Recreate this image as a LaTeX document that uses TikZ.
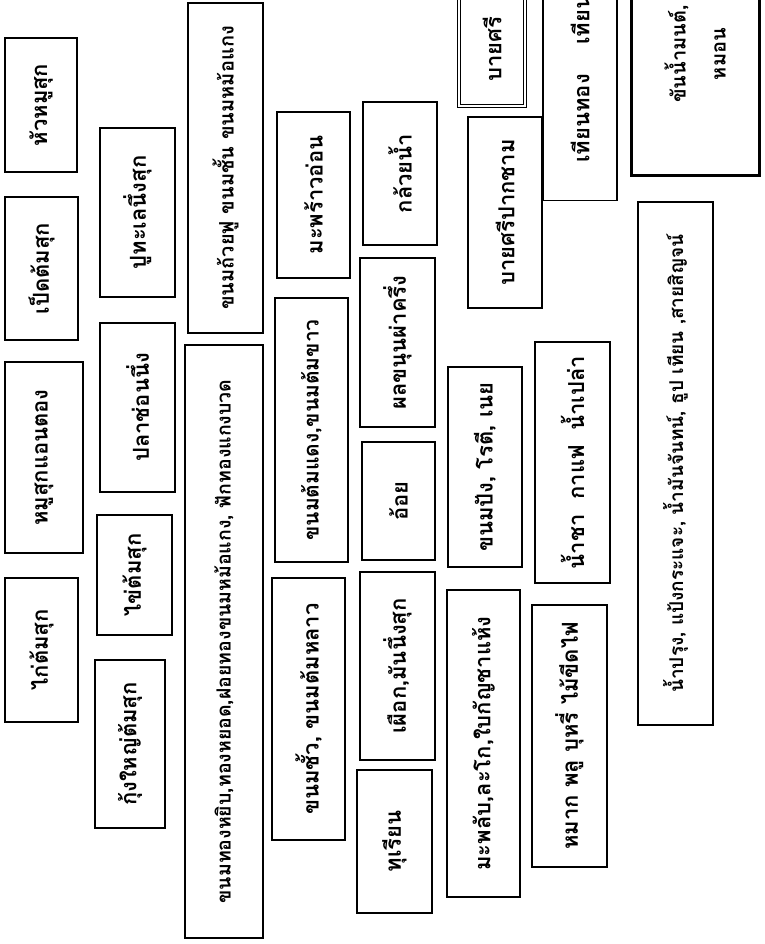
\documentclass[tikz,border=0pt]{standalone}
\usepackage{fontspec}
\newfontfamily\thaifont[Script=Thai]{Loma}
\usepackage{tikz}
\tikzset{
    item/.style={
        draw,
        line width=1.6pt,
        rotate=90,
        align=center,
        inner sep=0pt,
        font=\thaifont\bfseries\fontsize{22}{40}\selectfont
    },
    dim/.style 2 args={
        minimum width=#2pt,
        minimum height=#1pt
    },
    fs/.style={font=\thaifont\bfseries\fontsize{#1}{40}\selectfont},
    heavy/.style={line width=3pt},
    twin/.style={double, double distance=2pt, line width=1.4pt}
}
\begin{document}
\begin{tikzpicture}[x=1pt, y=-1pt]
    \useasboundingbox (0,0) rectangle (764,944);
    \clip (0,0) rectangle (764,944);

    \node[item, dim={73}{144}] (kaitom) at (41.5,650) {ไก่ต้มสุก};
    \node[item, dim={78}{191}] (musuk) at (44,457.5) {หมูสุกแอนตอง};
    \node[item, dim={73}{143}] (pettom) at (41.5,268.5) {เป็ดต้มสุก};
    \node[item, dim={72}{134}] (huamu) at (41,105) {หัวหมูสุก};

    \node[item, dim={75}{169}] (puthale) at (137.5,212.5) {ปูทะเลนึ่งสุก};
    \node[item, dim={75}{169}] (plachon) at (137.5,407.5) {ปลาช่อนนึ่ง};
    \node[item, dim={75}{120}] (khaitom) at (134.5,575) {ไข่ต้มสุก};
    \node[item, dim={70}{168}] (kungyai) at (130,744) {กุ้งใหญ่ต้มสุก};

    \node[item, fs=20, dim={75}{330}] (thuaifu) at (225.5,168) {ขนมถ้วยฟู ขนมชั้น ขนมหม้อแกง};
    \node[item, fs=19.5, dim={78}{593}] (thongyip) at (224,641.5) {ขนมทองหยิบ,ทองหยอด,ฝอยทองขนมหม้อแกง, ฟักทองแกงบวด};

    \node[item, dim={73}{166}] (maphrao) at (313.5,195) {มะพร้าวอ่อน};
    \node[item, fs=21, dim={73}{264}] (tomdaeng) at (311.5,430) {ขนมต้มแดง,ขนมต้มขาว};
    \node[item, dim={73}{262}] (khanomchua) at (308.5,709) {ขนมชั้ว, ขนมต้มหลาว};

    \node[item, dim={74}{143}] (kluai) at (400,173.5) {กล้วยน้ำ};
    \node[item, dim={75}{169}] (khanun) at (397.5,342.5) {ผลขนุนผ่าครึ่ง};
    \node[item, dim={73}{118}] (oi) at (398.5,501) {อ้อย};
    \node[item, dim={75}{188}] (phueak) at (397.5,666) {เผือก,มันนึ่งสุก};
    \node[item, dim={75}{143}] (thurian) at (394.5,841.5) {ทุเรียน};

    \node[item, twin, dim={66}{114}] (baisri) at (492,49) {บายศรี};
    \node[item, dim={74}{191}] (baisripak) at (505,212.5) {บายศรีปากชาม};
    \node[item, dim={74}{200}] (khanompang) at (485,467) {ขนมปัง, โรตี, เนย};
    \node[item, dim={73}{307}] (maphlap) at (483.5,743.5) {มะพลับ,ละโก,ใบกัญชาแห้ง};

    \node[item, dim={74}{277}] (thian) at (580,62) {เทียนทอง\quad\ เทียนเงิน};
    \node[item, dim={75}{241}] (namcha) at (572.5,462.5) {น้ำชา\ \ กาแฟ\ \ น้ำเปล่า};
    \node[item, dim={75}{262}] (mak) at (569.5,736) {หมาก พลู บุหรี่ ไม้ขีดไฟ};

    \node[item, heavy, fs=20, dim={128}{244}] (khannam) at (695,54) {ขันน้ำมนต์,\\หมอน};
    \node[item, fs=19, dim={75}{523}] (namprung) at (675.5,463.5) {น้ำปรุง, แป้งกระแจะ, น้ำมันจันทน์, ธูป เทียน ,สายสิญจน์};
\end{tikzpicture}
\end{document}
